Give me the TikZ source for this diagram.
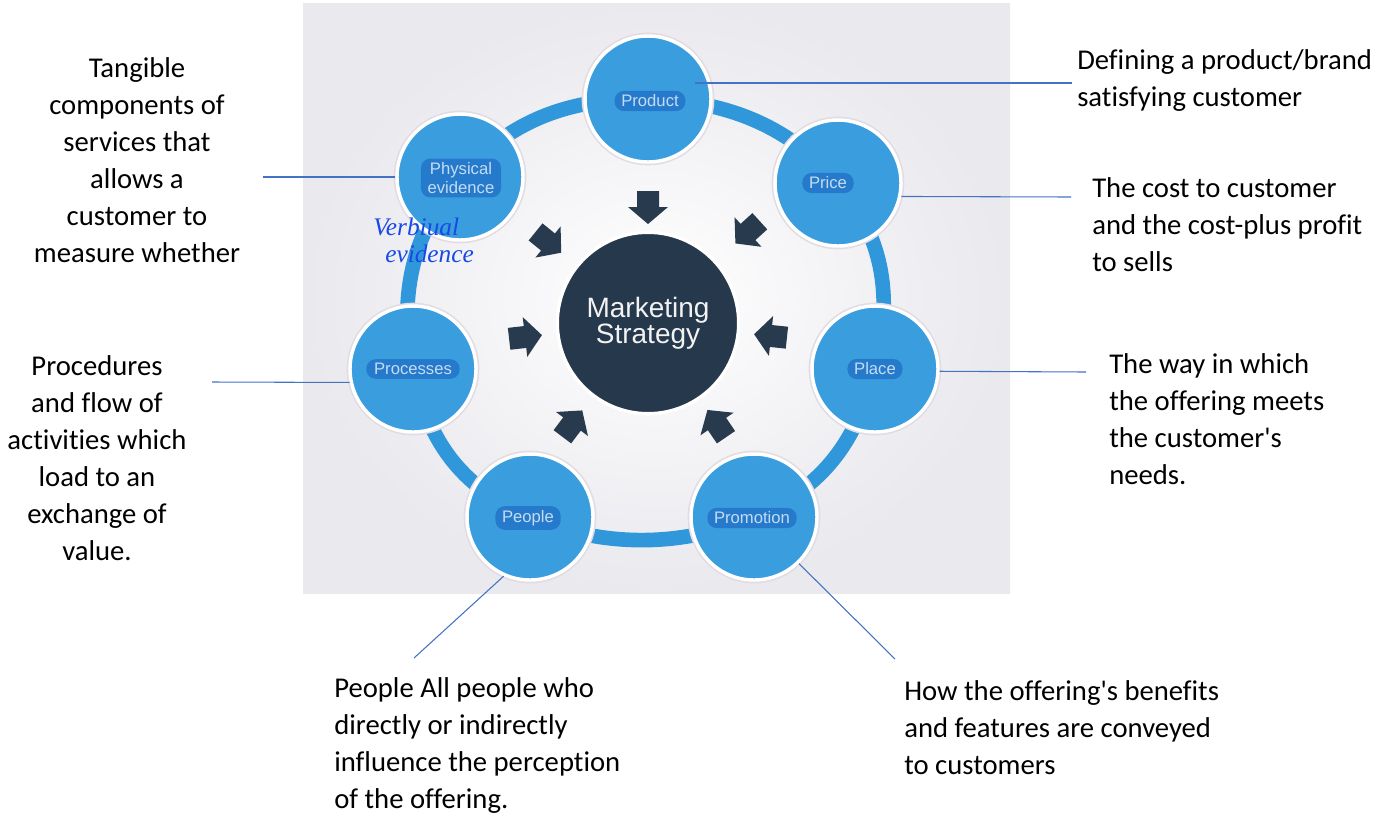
\documentclass[tikz,border=0pt]{standalone}
\usepackage{fontspec}
\setmainfont{Carlito}[Ligatures={TeX,NoCommon}]
\newfontfamily\arialfont{Liberation Sans}
\newfontfamily\handfont{Liberation Serif}

% Colours
\definecolor{panelgray}{RGB}{233,233,238}
\definecolor{ringblue}{RGB}{48,152,218}
\definecolor{discblue}{RGB}{58,158,222}
\definecolor{blobblue}{RGB}{38,122,204}
\definecolor{labeltext}{RGB}{196,220,242}
\definecolor{coreblue}{RGB}{38,56,76}
\definecolor{arrowdark}{RGB}{40,58,78}
\definecolor{leadblue}{RGB}{68,114,196}
\definecolor{inkblue}{RGB}{24,72,230}
\definecolor{halo}{RGB}{226,220,226}

% multi-line notes, baseline of the first line
\newcommand{\lefttab}[1]{\begin{tabular}[t]{@{}l@{}}#1\end{tabular}}
\newcommand{\centtab}[1]{\begin{tabular}[t]{@{}c@{}}#1\end{tabular}}

\begin{document}
\begin{tikzpicture}[x=0.75pt,y=-0.75pt,
  disc/.style={circle, fill=discblue, draw=white, line width=2.6pt,
    minimum size=94.5pt, inner sep=0pt, preaction={draw=halo, line width=5pt}},
  blob/.style={fill=blobblue, rounded corners=7pt, text=labeltext, inner xsep=5pt,
    inner ysep=3pt, align=center, font=\arialfont\fontsize{12.5}{14}\selectfont},
  core/.style={circle, fill=coreblue, draw=white, line width=2.5pt, minimum size=136pt,
    text=white!90!gray, align=center, font=\arialfont\fontsize{21}{19.5}\selectfont},
  note/.style={anchor=base west, inner sep=0pt, font=\fontsize{21.5}{27.75}\selectfont},
  cnote/.style={note, anchor=base},
  hand/.style={anchor=base west, inner sep=0pt, text=inkblue,
    font=\handfont\itshape\fontsize{19}{20}\selectfont},
  lead/.style={draw=leadblue, line width=0.8pt}]

% Page and picture panel
\fill[white] (0,0) rectangle (1390,819);
\useasboundingbox (0,0) rectangle (1390,819);
\fill[panelgray] (303,3) rectangle (1010,593);
\fill[inner color=white, outer color=panelgray] (303,3) rectangle (1010,593);

% Disc centres
\coordinate (cProd)  at (648,99);
\coordinate (cPrice) at (838,183);
\coordinate (cPlace) at (875,369);
\coordinate (cPromo) at (754,517);
\coordinate (cPeople) at (530,517);
\coordinate (cProc)  at (413,369);
\coordinate (cPhys)  at (460,177);

% Ring through the discs
\draw[ringblue, line width=11pt] plot[smooth cycle, tension=0.75]
  coordinates {(cProd) (cPrice) (cPlace) (cPromo) (cPeople) (cProc) (cPhys)};

% Discs
\node[disc] (prod)   at (cProd)   {};
\node[disc] (price)  at (cPrice)  {};
\node[disc] (place)  at (cPlace)  {};
\node[disc] (promo)  at (cPromo)  {};
\node[disc] (people) at (cPeople) {};
\node[disc] (proc)   at (cProc)   {};
\node[disc] (phys)   at (cPhys)   {};

% Disc labels
\node[blob] (prodlbl)   at (650,101) {Product};
\node[blob] (pricelbl)  at (828,183) {Price};
\node[blob] (placelbl)  at (875,369) {Place};
\node[blob] (promolbl)  at (752,518) {Promotion};
\node[blob] (peoplelbl) at (528,518) {People};
\node[blob, minimum width=70pt] (proclbl) at (413,369) {Processes};
\node[blob] (physlbl)   at (461,178) {Physical\\evidence};

% Centre
\node[core] (core) at (648,323) {Marketing\\Strategy};

% Inward arrows
\foreach \ax/\ay/\ang in {648/207/-90, 748/232/-137.7, 548/242/-39, 525/337/6.5,
                          771/336/174, 572/424/53, 717/424/124.3}
  \fill[arrowdark, shift={(\ax,\ay)}, rotate=\ang]
    (-16,-11) -- (0,-11) -- (0,-20) -- (17,0) -- (0,20) -- (0,11) -- (-16,11) -- cycle;

% Handwritten note
\node[hand] (verb) at (373,235) {Verbiual};
\node[hand] (evid) at (385,262) {evidence};

% Notes
\node[note] (prodtxt)   at (1077,69)  {\lefttab{Defining a product/brand\\satisfying customer}};
\node[note] (pricetxt)  at (1092,197) {\lefttab{The cost to customer\\and the cost-plus profit\\to sells}};
\node[note] (placetxt)  at (1109,373) {\lefttab{The way in which\\the offering meets\\the customer\textquotesingle s\\needs.}};
\node[cnote] (phystxt)  at (137,77)   {\centtab{Tangible\\components of\\services that\\allows a\\customer to\\measure whether}};
\node[cnote] (proctxt)  at (97,375)   {\centtab{Procedures\\and flow of\\activities which\\load to an\\exchange of\\value.}};
\node[note] (peopletxt) at (334,697)  {\lefttab{People All people who\\directly or indirectly\\influence the perception\\of the offering.}};
\node[note] (promotxt)  at (904,700)  {\lefttab{How the offering\textquotesingle s benefits\\and features are conveyed\\to customers}};

% Leader lines
\coordinate (prodIn)    at (695,83);
\coordinate (prodEnd)   at (1072,83);
\coordinate (priceEnd)  at (1071,197);
\coordinate (placeEnd)  at (1086,372);
\coordinate (physEnd)   at (263,177);
\coordinate (procEnd)   at (212,382);
\coordinate (peopleEnd) at (414,658);
\coordinate (promoEnd)  at (895,659);

\draw[lead] (prodIn) -- (prodEnd);
\draw[lead] (price.-12) -- (priceEnd);
\draw[lead] (place.-2) -- (placeEnd);
\draw[lead] (phys.west) -- (physEnd);
\draw[lead] (proc.192) -- (procEnd);
\draw[lead] (people.-114) -- (peopleEnd);
\draw[lead] (promo.-46) -- (promoEnd);

\end{tikzpicture}
\end{document}
